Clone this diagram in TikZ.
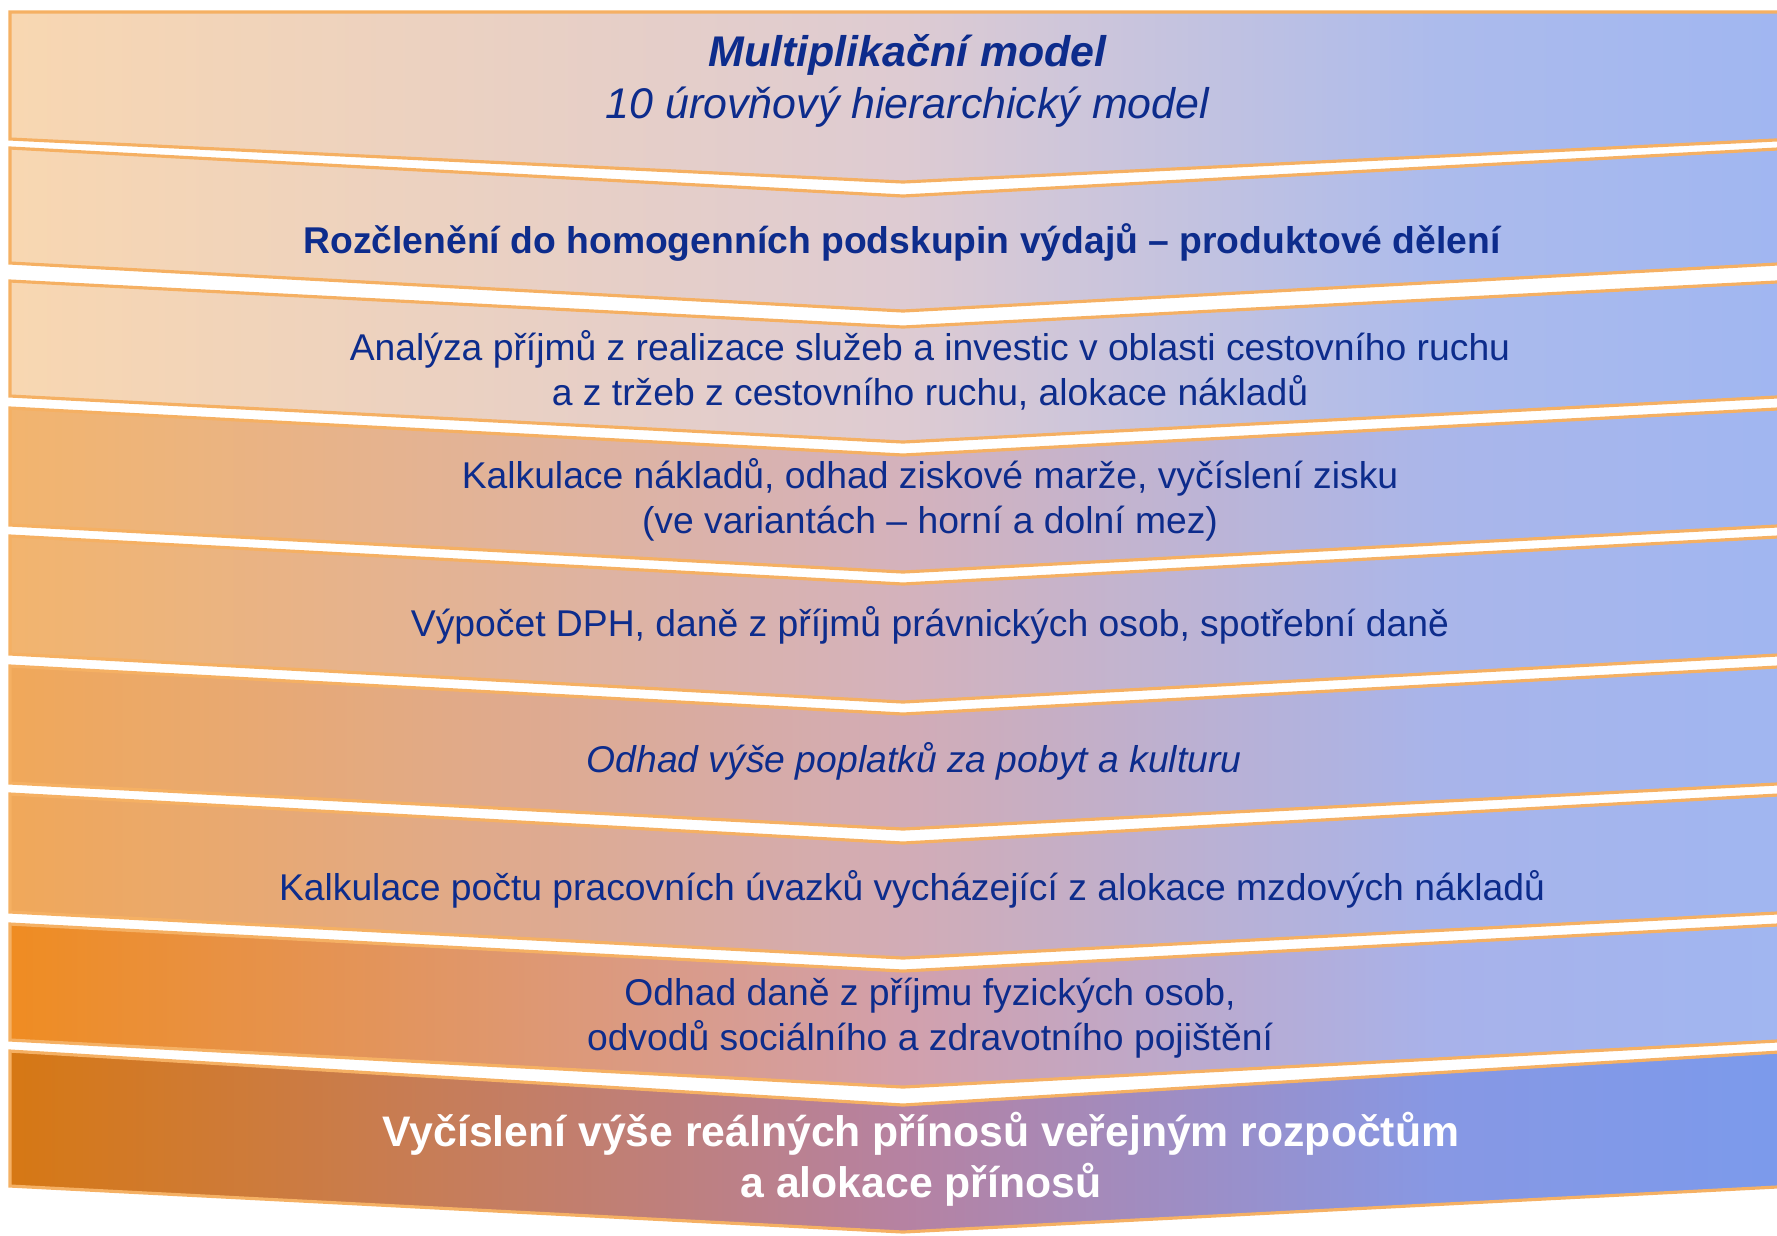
\documentclass[tikz,border=0pt]{standalone}
\usepackage{fontspec}
\setmainfont{Liberation Sans}
\usetikzlibrary{positioning}

\definecolor{edgeorange}{RGB}{245,176,99}
\definecolor{txtblue}{RGB}{13,44,140}
\definecolor{peach}{RGB}{248,215,177}
\definecolor{apricot}{RGB}{242,180,110}
\definecolor{tangerine}{RGB}{240,168,90}
\definecolor{brightorange}{RGB}{239,140,34}
\definecolor{darkorange}{RGB}{214,120,20}
\definecolor{lightblue}{RGB}{160,182,241}
\definecolor{deepblue}{RGB}{123,154,236}

% stred 25bp--75bp odpovida sirce pasu
\pgfdeclarehorizontalshading{peachfade}{100bp}{color(0bp)=(peach); color(25bp)=(peach);
  color(50bp)=(rgb,255:red,222;green,203;blue,210); color(65bp)=(rgb,255:red,172;green,187;blue,236);
  color(75bp)=(lightblue); color(100bp)=(lightblue)}
\pgfdeclarehorizontalshading{apricotfade}{100bp}{color(0bp)=(apricot); color(25bp)=(apricot);
  color(50bp)=(rgb,255:red,212;green,178;blue,188); color(65bp)=(rgb,255:red,170;green,182;blue,234);
  color(75bp)=(lightblue); color(100bp)=(lightblue)}
\pgfdeclarehorizontalshading{tangerinefade}{100bp}{color(0bp)=(tangerine); color(25bp)=(tangerine);
  color(50bp)=(rgb,255:red,210;green,172;blue,182); color(65bp)=(rgb,255:red,168;green,180;blue,234);
  color(75bp)=(lightblue); color(100bp)=(lightblue)}
\pgfdeclarehorizontalshading{brightfade}{100bp}{color(0bp)=(brightorange); color(25bp)=(brightorange);
  color(50bp)=(rgb,255:red,210;green,160;blue,172); color(65bp)=(rgb,255:red,168;green,178;blue,234);
  color(75bp)=(lightblue); color(100bp)=(lightblue)}
\pgfdeclarehorizontalshading{darkfade}{100bp}{color(0bp)=(darkorange); color(25bp)=(darkorange);
  color(50bp)=(rgb,255:red,182;green,130;blue,162); color(65bp)=(rgb,255:red,135;green,152;blue,228);
  color(75bp)=(deepblue); color(100bp)=(deepblue)}

\begin{document}
\begin{tikzpicture}[x=0.01cm, y=-0.01cm,
  band/.style={draw=edgeorange, line width=0.9pt, line join=miter},
  lbl/.style={inner sep=0pt, align=center, text=txtblue, font=\fontsize{10.6}{12.8}\selectfont}]
  \useasboundingbox (0,0) rectangle (1777,1235);

  % pasy
  \draw[band, shading=peachfade]
    (10,12) -- (1796,12) -- (1796,139) -- (903,182) -- (10,139) -- cycle;
  \draw[band, shading=peachfade]
    (10,148) -- (903,196) -- (1796,148) -- (1796,263) -- (903,311) -- (10,263) -- cycle;
  \draw[band, shading=peachfade]
    (10,281) -- (903,327) -- (1796,281) -- (1796,396) -- (903,442) -- (10,396) -- cycle;
  \draw[band, shading=apricotfade]
    (10,408) -- (903,455) -- (1796,408) -- (1796,525) -- (903,572) -- (10,525) -- cycle;
  \draw[band, shading=apricotfade]
    (10,536) -- (903,584) -- (1796,536) -- (1796,654) -- (903,702) -- (10,654) -- cycle;
  \draw[band, shading=tangerinefade]
    (10,666) -- (903,714) -- (1796,666) -- (1796,783) -- (903,829) -- (10,783) -- cycle;
  \draw[band, shading=tangerinefade]
    (10,794) -- (903,843) -- (1796,794) -- (1796,912) -- (903,958) -- (10,912) -- cycle;
  \draw[band, shading=brightfade]
    (10,924) -- (903,971) -- (1796,924) -- (1796,1040) -- (903,1087) -- (10,1040) -- cycle;
  \draw[band, shading=darkfade]
    (10,1051) -- (903,1105) -- (1796,1051) -- (1796,1186) -- (903,1232) -- (10,1186) -- cycle;

  % texty
  \node[lbl, font=\fontsize{12.2}{14.8}\selectfont] (t1) at (908,81)
    {\textbf{\textit{Multiplikační model}}\\\textit{10 úrovňový hierarchický model}};
  \node[lbl, font=\fontsize{10.6}{12.8}\selectfont\bfseries] (t2) at (902,242)
    {Rozčlenění do homogenních podskupin výdajů – produktové dělení};
  \node[lbl] (t3) at (930,370)
    {Analýza příjmů z realizace služeb a investic v oblasti cestovního ruchu\\a z tržeb z cestovního ruchu, alokace nákladů};
  \node[lbl] (t4) at (930,500)
    {Kalkulace nákladů, odhad ziskové marže, vyčíslení zisku\\(ve variantách – horní a dolní mez)};
  \node[lbl] (t5) at (930,625)
    {Výpočet DPH, daně z příjmů právnických osob, spotřební daně};
  \node[lbl, font=\fontsize{10.6}{12.8}\selectfont\itshape] (t6) at (914,761)
    {Odhad výše poplatků za pobyt a kulturu};
  \node[lbl] (t7) at (912,889)
    {Kalkulace počtu pracovních úvazků vycházející z alokace mzdových nákladů};
  \node[lbl] (t8) at (930,1018)
    {Odhad daně z příjmu fyzických osob,\\odvodů sociálního a zdravotního pojištění};
  \node[lbl, text=white, font=\fontsize{12.15}{14.5}\selectfont\bfseries] (t9) at (921,1159)
    {Vyčíslení výše reálných přínosů veřejným rozpočtům\\a alokace přínosů};
\end{tikzpicture}
\end{document}
